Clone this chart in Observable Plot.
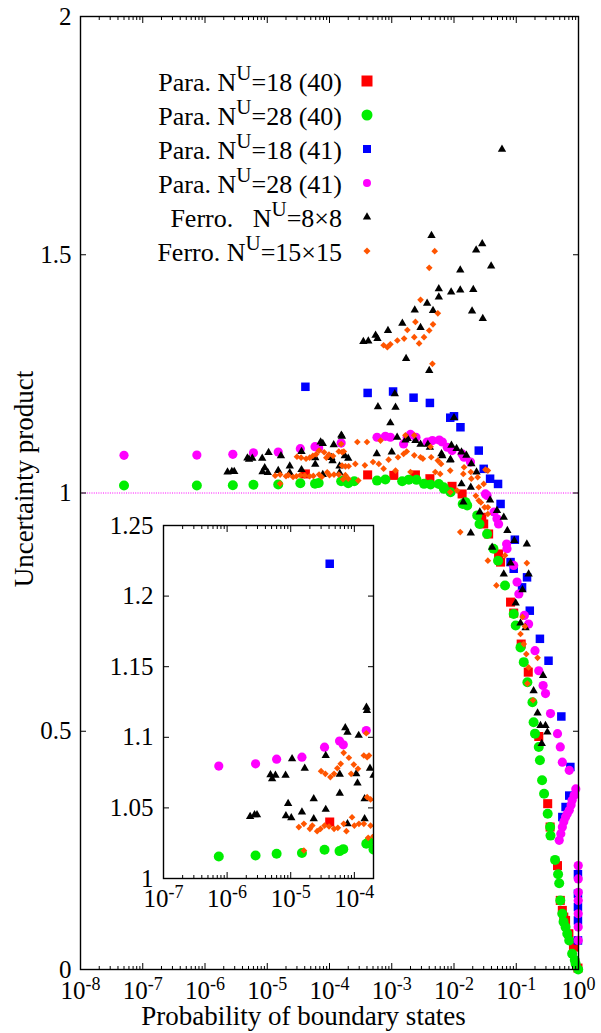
<!DOCTYPE html>
<html><head><meta charset="utf-8">
<script src="https://cdn.jsdelivr.net/npm/d3@7"></script>
<script src="https://cdn.jsdelivr.net/npm/@observablehq/plot@0.6"></script>
<style>
html,body{margin:0;padding:0;background:#fff;}
#wrap{position:relative;width:601px;height:1033px;overflow:hidden;}
#wrap svg{position:absolute;}
#wrap svg text{font-family:"Liberation Serif","Times New Roman",serif !important;font-variant:normal !important;}
</style></head><body><div id="wrap"></div>
<script>
// ---------- data: [probability of boundary states, uncertainty product] ----------
const para18_40 = [[4.1e-5,1.040],[4.1e-4,1.038],[1.08e-3,1.037],[2.4e-3,1.038],[4.1e-3,1.030],[9.3e-3,1.014],[1.35e-2,0.998],[2.8e-2,0.949],[3.0e-2,0.935],[3.6e-2,0.914],[5.2e-2,0.872],[5.6e-2,0.855],[8.1e-2,0.771],[9.1e-2,0.748],[0.12,0.683],[0.156,0.624],[0.23,0.489],[0.32,0.348],[0.35,0.299],[0.46,0.218],[0.51,0.145],[0.55,0.124],[0.58,0.11],[0.62,0.103],[0.70,0.075],[0.83,0.047],[0.98,0.003]];
const para28_40 = [[5.0e-8,1.0157],[7.4e-7,1.0156],[2.8e-6,1.0163],[6.0e-6,1.0175],[1.5e-5,1.018],[3.4e-5,1.0203],[5.85e-5,1.0194],[6.7e-5,1.0208],[1.54e-4,1.0246],[1.7e-4,1.0262],[2.0e-4,1.0206],[2.5e-4,1.0248],[5.8e-4,1.026],[7.9e-4,1.0283],[1.47e-3,1.0248],[1.88e-3,1.028],[2.5e-3,1.0276],[3.3e-3,1.0192],[4.2e-3,1.0178],[5.7e-3,1.019],[6.8e-3,1.012],[6.9e-3,1.0087],[8.8e-3,1.0017],[1.38e-2,0.977],[1.53e-2,0.9808],[1.63e-2,0.974],[2.36e-2,0.953],[2.57e-2,0.935],[3.4e-2,0.914],[4.3e-2,0.883],[5.1e-2,0.858],[6.6e-2,0.806],[9.1e-2,0.746],[9.8e-2,0.722],[0.117,0.676],[0.132,0.645],[0.151,0.603],[0.182,0.561],[0.19,0.519],[0.20,0.495],[0.23,0.467],[0.24,0.439],[0.26,0.397],[0.28,0.369],[0.32,0.327],[0.35,0.299],[0.355,0.281],[0.42,0.23],[0.47,0.20],[0.49,0.181],[0.51,0.145],[0.55,0.117],[0.575,0.10],[0.62,0.089],[0.66,0.075],[0.71,0.061],[0.79,0.033],[0.87,0.02],[0.90,0.012],[0.99,0.0]];
const para18_41 = [[4.1e-5,1.2229],[4.1e-4,1.210],[1.05e-3,1.213],[2.24e-3,1.20],[4.1e-3,1.189],[8.7e-3,1.158],[1.0e-2,1.161],[1.27e-2,1.138],[2.5e-2,1.089],[3.0e-2,1.0507],[3.8e-2,1.03],[5.1e-2,1.019],[5.6e-2,0.977],[8.1e-2,0.855],[9.1e-2,0.841],[9.5e-2,0.902],[0.124,0.802],[0.149,0.823],[0.165,0.753],[0.24,0.694],[0.33,0.648],[0.53,0.531],[0.55,0.32],[0.62,0.341],[0.71,0.365],[0.74,0.425],[0.98,0.2],[0.98,0.159],[0.98,0.131],[0.98,0.103],[0.98,0.061]];
const para28_41 = [[5.0e-8,1.079],[7.4e-7,1.0796],[2.8e-6,1.0812],[6.0e-6,1.0845],[1.5e-5,1.0859],[3.4e-5,1.093],[5.85e-5,1.0973],[6.7e-5,1.0947],[1.54e-4,1.1048],[5.8e-4,1.117],[7.9e-4,1.119],[9.5e-4,1.117],[1.55e-3,1.103],[1.77e-3,1.117],[2.0e-3,1.123],[2.45e-3,1.117],[3.7e-3,1.107],[4.5e-3,1.110],[5.8e-3,1.111],[6.5e-3,1.107],[7.8e-3,1.096],[9.3e-3,1.089],[1.35e-2,1.082],[1.45e-2,1.075],[1.84e-2,1.065],[3.2e-2,0.998],[3.4e-2,0.995],[4.4e-2,0.96],[4.9e-2,0.946],[5.2e-2,0.935],[7.0e-2,0.893],[7.1e-2,0.883],[9.1e-2,0.848],[0.103,0.813],[0.11,0.788],[0.135,0.743],[0.158,0.725],[0.20,0.669],[0.23,0.627],[0.27,0.596],[0.295,0.579],[0.355,0.537],[0.46,0.495],[0.51,0.467],[0.55,0.435],[0.71,0.418],[0.905,0.379],[0.85,0.365],[0.79,0.355],[0.76,0.345],[0.71,0.334],[0.66,0.327],[0.62,0.32],[0.58,0.31],[0.55,0.299],[0.52,0.285],[0.49,0.271],[0.99,0.218],[0.99,0.19],[0.99,0.162],[0.99,0.145],[0.99,0.117],[0.99,0.089],[0.99,0.061]];
const ferro8 = [[2.3e-6,1.0439],[2.7e-6,1.0451],[2.95e-6,1.0451],[4.8e-6,1.0734],[5.1e-6,1.0706],[5.75e-6,1.073],[8.3e-6,1.073],[9.1e-6,1.053],[1.05e-5,1.0847],[8.4e-6,1.0444],[1.02e-5,1.043],[1.5e-5,1.047],[1.66e-5,1.078],[2.3e-5,1.0564],[2.3e-5,1.0423],[3.55e-5,1.0871],[3.55e-5,1.0489],[5.9e-5,1.0604],[5.9e-5,1.0737],[7.2e-5,1.1067],[7.8e-5,1.1036],[7.8e-5,1.0387],[1.17e-4,1.1013],[1.07e-4,1.0741],[1.12e-4,1.0675],[1.55e-4,1.1213],[1.58e-4,1.119],[1.45e-4,1.0423],[1.45e-4,1.0564],[1.76e-4,1.078],[2.0e-4,1.073],[3.5e-4,1.318],[4.2e-4,1.319],[5.5e-4,1.331],[5.75e-4,1.082],[5.9e-4,1.324],[6.0e-4,1.181],[8.7e-4,1.341],[9.5e-4,1.147],[1.0e-3,1.086],[1.12e-3,1.208],[1.15e-3,1.180],[1.22e-3,1.117],[1.48e-3,1.356],[1.66e-3,1.111],[1.7e-3,1.282],[1.8e-3,1.114],[2.34e-3,1.384],[2.4e-3,1.110],[2.9e-3,1.347],[2.9e-3,1.102],[3.7e-3,1.398],[3.8e-3,1.102],[4.0e-3,1.257],[4.1e-3,1.096],[4.35e-3,1.540],[4.6e-3,1.383],[5.7e-3,1.4285],[5.7e-3,1.411],[6.3e-3,1.082],[6.5e-3,1.078],[8.7e-3,1.069],[8.8e-3,1.07],[9.0e-3,1.4215],[9.1e-3,1.10],[1.0e-2,1.158],[1.1e-2,1.093],[1.26e-2,1.468],[1.26e-2,1.426],[1.32e-2,1.086],[1.32e-2,1.019],[1.41e-2,0.981],[1.58e-2,1.079],[1.86e-2,1.012],[1.86e-2,0.916],[1.9e-2,1.061],[1.95e-2,1.382],[2.04e-2,1.427],[2.27e-2,1.510],[2.3e-2,1.044],[2.6e-2,0.96],[2.84e-2,1.523],[2.9e-2,1.366],[3.8e-2,0.985],[3.95e-2,1.476],[4.1e-2,0.886],[4.9e-2,0.963],[5.9e-2,1.721],[6.3e-2,0.949],[6.3e-2,0.830],[7.2e-2,0.921],[8.1e-2,0.853],[9.3e-2,0.900],[9.8e-2,0.769],[0.117,0.727],[0.126,0.797],[0.141,0.717],[0.148,0.893],[0.158,0.830],[0.19,0.585],[0.22,0.538],[0.245,0.512],[0.257,0.474],[0.27,0.617],[0.295,0.512],[0.316,0.498]];
const ferro15 = [[1.34e-5,1.0364],[1.61e-5,1.0387],[2.0e-5,1.0352],[2.18e-5,1.0375],[2.6e-5,1.0335],[2.94e-5,1.0352],[3.4e-5,1.0375],[4.0e-5,1.0368],[4.8e-5,1.0352],[5.5e-5,1.0359],[6.8e-5,1.0387],[7.5e-5,1.0335],[9.2e-5,1.0434],[1.0e-4,1.0375],[1.18e-4,1.0387],[1.41e-4,1.0387],[1.8e-4,1.0375],[1.65e-4,1.0288],[1.61e-5,1.0198],[3.0e-5,1.076],[3.5e-5,1.0741],[4.2e-5,1.0718],[4.8e-5,1.0741],[5.4e-5,1.0781],[6.1e-5,1.0812],[6.8e-5,1.089],[8.2e-5,1.0855],[8.9e-5,1.0741],[9.8e-5,1.0807],[1.14e-4,1.0777],[1.41e-4,1.0871],[1.59e-4,1.0859],[1.54e-4,1.1029],[1.59e-4,1.0576],[1.8e-4,1.056],[2.03e-4,1.0562],[1.7e-4,1.0871],[2.0e-4,1.03],[2.6e-4,1.061],[2.8e-4,1.107],[2.9e-4,1.026],[3.7e-4,1.058],[4.0e-4,1.107],[5.0e-4,1.065],[6.2e-4,1.061],[6.6e-4,1.11],[7.4e-4,1.051],[7.4e-4,1.310],[8.5e-4,1.306],[8.9e-4,1.07],[9.5e-4,1.312],[1.15e-3,1.047],[1.23e-3,1.320],[1.26e-3,1.075],[1.55e-3,1.082],[1.58e-3,1.324],[1.66e-3,1.121],[1.74e-3,1.087],[1.78e-3,1.342],[2.0e-3,1.044],[2.3e-3,1.121],[2.3e-3,1.079],[2.3e-3,1.327],[2.4e-3,1.359],[2.75e-3,1.314],[2.9e-3,1.4054],[2.9e-3,1.075],[3.16e-3,1.072],[3.3e-3,1.327],[4.0e-3,1.4725],[4.0e-3,1.341],[4.2e-3,1.097],[4.3e-3,1.075],[4.5e-3,1.271],[4.6e-3,1.354],[4.9e-3,1.5075],[5.0e-3,1.044],[5.5e-3,1.068],[5.5e-3,1.377],[6.0e-3,1.040],[6.2e-3,1.061],[8.7e-3,1.047],[8.7e-3,1.002],[1.12e-2,1.005],[1.26e-2,0.918],[1.41e-2,1.040],[1.45e-2,1.054],[1.86e-2,1.044],[1.9e-2,1.030],[2.24e-2,0.994],[2.4e-2,1.033],[2.5e-2,1.012],[2.5e-2,0.984],[2.7e-2,0.98],[3.0e-2,1.019],[3.1e-2,0.970],[3.2e-2,1.049],[3.5e-2,0.97],[3.5e-2,1.047],[3.5e-2,0.956],[3.5e-2,0.858],[4.8e-2,0.806],[6.6e-2,0.869],[0.117,0.704],[0.126,0.74],[0.132,0.683],[0.138,0.72],[0.145,0.662],[0.148,0.853],[0.151,0.60],[0.158,0.634],[0.186,0.565],[0.22,0.654]];

const legendNames = ["Para. N^U=18 (40)", "Para. N^U=28 (40)", "Para. N^U=18 (41)", "Para. N^U=28 (41)", "Ferro.\u00a0\u00a0\u00a0N^U=8\u00d78", "Ferro. N^U=15\u00d715"];
const xTicksMain = [1e-8, 1e-7, 1e-6, 1e-5, 1e-4, 1e-3, 1e-2, 1e-1, 1];
const yTicksMain = [0, 0.5, 1, 1.5, 2];
const xTicksInset = [1e-7, 1e-6, 1e-5, 1e-4];
const yTicksInset = [1, 1.05, 1.1, 1.15, 1.2, 1.25];
const xTitle = "Probability of boundary states";
const yTitle = "Uncertainty product";

// ---------- styling ----------
const FONT = '"Liberation Serif", "Times New Roman", serif';
const series = [
  {name: legendNames[0], data: para18_40, symbol: "square",   fill: "#ff0000", r: 5.1, lsym: d3.symbolSquare,   lsize: 121},
  {name: legendNames[1], data: para28_40, symbol: "circle",   fill: "#00ee00", r: 5.0, lsym: d3.symbolCircle,   lsize: 95},
  {name: legendNames[2], data: para18_41, symbol: "square",   fill: "#0000ff", r: 4.8, lsym: d3.symbolSquare,   lsize: 64},
  {name: legendNames[3], data: para28_41, symbol: "circle",   fill: "#ff00ff", r: 4.6, lsym: d3.symbolCircle,   lsize: 50},
  {name: legendNames[4], data: ferro8,    symbol: "triangle", fill: "#000000", r: 3.1, lsym: d3.symbolTriangle, lsize: 30},
  {name: legendNames[5], data: ferro15,   symbol: "diamond2", fill: "#ff5500", r: 3.0, lsym: d3.symbolDiamond2 || d3.symbolDiamond, lsize: 32}
];

function minorTicks(lo, hi) {
  const out = [];
  for (let e = lo; e < hi; e++) for (let m = 2; m <= 9; m++) out.push(m * Math.pow(10, e));
  return out;
}
const fmtPow = d => "10^" + Math.round(Math.log10(d));
const blank = () => "";

function axisMarks(xMajor, xMinor, yMajor, yFmt, pad) {
  return [
    Plot.axisX(xMajor, {anchor: "bottom", tickSize: 0, tickPadding: pad.x, tickFormat: fmtPow, label: null, fontSize: 25, fontFamily: FONT, fontVariant: "normal"}),
    Plot.axisX(xMajor, {anchor: "bottom", tickSize: -6, tickFormat: blank, label: null}),
    Plot.axisX(xMinor, {anchor: "bottom", tickSize: -3, tickFormat: blank, label: null}),
    Plot.axisX(xMajor, {anchor: "top", tickSize: -6, tickFormat: blank, label: null}),
    Plot.axisX(xMinor, {anchor: "top", tickSize: -3, tickFormat: blank, label: null}),
    Plot.axisY(yMajor, {anchor: "left", tickSize: 0, tickPadding: pad.y, tickFormat: yFmt, label: null, fontSize: 25, fontFamily: FONT, fontVariant: "normal"}),
    Plot.axisY(yMajor, {anchor: "left", tickSize: -6, tickFormat: blank, label: null}),
    Plot.axisY(yMajor, {anchor: "right", tickSize: -6, tickFormat: blank, label: null})
  ];
}

function dotMarks(filterFn, clip) {
  return series.map(s => Plot.dot(filterFn ? s.data.filter(filterFn) : s.data, {
    x: d => d[0], y: d => d[1], symbol: s.symbol, fill: s.fill, r: s.r, clip
  }));
}

function finishText(svg) {
  d3.select(svg).selectAll("text").each(function () {
    const sel = d3.select(this);
    sel.attr("font-family", FONT).attr("font-variant", null).style("font-family", FONT);
    const t = this.textContent;
    const m = /^10\^(-?\d+)$/.exec(t);
    if (!m) return;
    sel.text(null);
    sel.append("tspan").text("10");
    sel.append("tspan").attr("dy", "-0.5em").attr("font-size", "72%").text(m[1]);
  });
}

const wrap = document.getElementById("wrap");

// ---------- main chart ----------
const main = Plot.plot({
  width: 601, height: 1033,
  marginLeft: 80, marginRight: 23, marginTop: 16, marginBottom: 64,
  style: {fontFamily: FONT, fontSize: "25px", background: "transparent", color: "black"},
  x: {type: "log", domain: [1e-8, 1]},
  y: {domain: [0, 2]},
  marks: [
    Plot.ruleY([1], {stroke: "#ff00ff", strokeWidth: 1, strokeDasharray: "1,1.3"}),
    ...dotMarks(null, false),
    Plot.frame({stroke: "black", strokeWidth: 1.4}),
    ...axisMarks(xTicksMain, minorTicks(-8, 0), yTicksMain, d => String(d), {x: 12, y: 9}),
    Plot.text([xTitle], {text: d => d, frameAnchor: "bottom", textAnchor: "middle", lineAnchor: "middle", dx: -26, dy: 47, fontSize: 27, fontFamily: FONT}),
    Plot.text([yTitle], {text: d => d, frameAnchor: "left", textAnchor: "middle", lineAnchor: "middle", rotate: -90, dx: -56, dy: -14, fontSize: 27, fontFamily: FONT})
  ]
});
main.style.left = "0px"; main.style.top = "0px";
finishText(main);
wrap.appendChild(main);

// legend
const lg = d3.select(main).append("g").attr("font-family", FONT).attr("font-size", 26).attr("fill", "black");
series.forEach((s, i) => {
  const cy = 81 + i * 34;
  const parts = s.name.split("^U");
  const t = lg.append("text").attr("x", 342).attr("y", cy + 10).attr("text-anchor", "end");
  t.append("tspan").text(parts[0]);
  t.append("tspan").attr("dy", -11).attr("font-size", 21).text("U");
  t.append("tspan").attr("dy", 11).text(parts[1]);
  lg.append("path").attr("transform", `translate(367,${cy})`).attr("d", d3.symbol(s.lsym, s.lsize)()).attr("fill", s.fill);
});

// ---------- inset ----------
const inX = [1e-7, 2e-4], inY = [1, 1.25];
const inside = d => d[0] >= inX[0] && d[0] <= inX[1] && d[1] >= inY[0] && d[1] <= inY[1];
const inset = Plot.plot({
  width: 290, height: 405,
  marginLeft: 70, marginRight: 10, marginTop: 12, marginBottom: 40,
  style: {fontFamily: FONT, fontSize: "25px", background: "transparent", color: "black"},
  x: {type: "log", domain: inX},
  y: {domain: inY},
  marks: [
    ...dotMarks(inside, true),
    Plot.frame({stroke: "black", strokeWidth: 1.4}),
    ...axisMarks(xTicksInset, minorTicks(-7, -4), yTicksInset, d => String(d), {x: 11, y: 10})
  ]
});
inset.style.left = "93px"; inset.style.top = "513px";
finishText(inset);
wrap.appendChild(inset);
</script>
</body></html>
